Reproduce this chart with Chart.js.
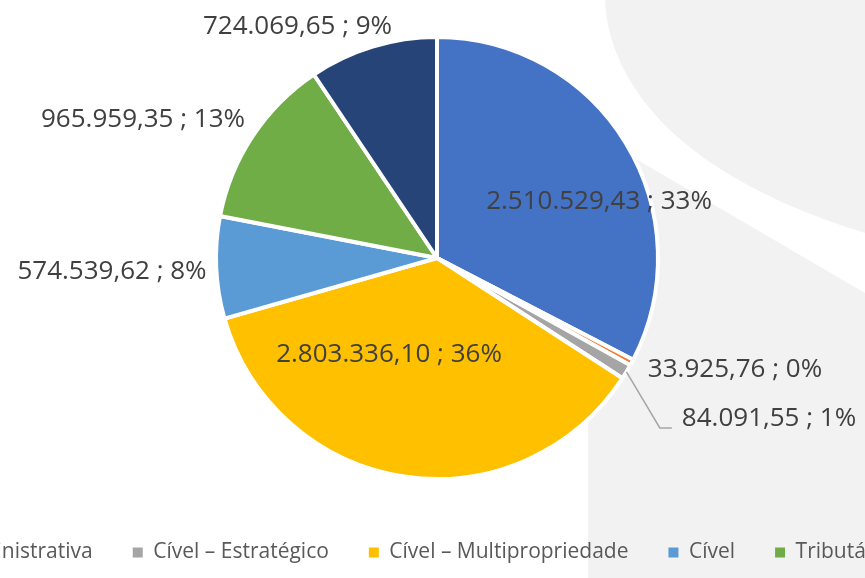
<!DOCTYPE html>
<html>
<head>
<meta charset="utf-8">
<script src="https://cdn.jsdelivr.net/npm/chart.js@4"></script>
<style>
html, body { margin: 0; padding: 0; background: #fff; }
#wrap {
    position: relative; width: 865px; height: 578px; overflow: hidden;
    background: linear-gradient(to right, #fff 588px, #F2F2F2 588px);
}
#chart { position: absolute; top: 0; }
</style>
</head>
<body>
<div id="wrap"><canvas id="chart" height="573"></canvas></div>
<script>
const CATEGORIES = ["Trabalhista", "Administrativa", "Cível – Estratégico", "Cível – Multipropriedade", "Cível", "Tributário", "Regulatório"];
const VALUES = [2510529.43, 33925.76, 84091.55, 2803336.10, 574539.62, 965959.35, 724069.65];
const COLORS = ["#4472C4", "#ED7D31", "#A5A5A5", "#FFC000", "#5B9BD5", "#70AD47", "#264478"];

// label centres, px from pie centre (for a 221px radius)
const LABEL_POS = [[162, -58], [298, 110], [332, 159], [-48, 95], [-325, 12], [-294, -140], [-139.5, -233]];
const LEADER = [false, false, true, false, false, false, false];

const PIE_X = 437;          // pie centre on the page
const LEGEND_FONT = 21;
const LEGEND_PAD = 40;

// the legend runs off both sides of the page, so the canvas is wider and
// slid left until the third legend entry sits where it does in the picture
const probe = document.createElement('canvas').getContext('2d');
probe.font = LEGEND_FONT + 'px "Open Sans"';
const itemW = t => 10 + LEGEND_FONT / 2 + probe.measureText(t).width;
const thirdBox = LEGEND_PAD + itemW(CATEGORIES[0]) + LEGEND_PAD + itemW(CATEGORIES[1]) + LEGEND_PAD;
const SHIFT = Math.round(thirdBox - 133);

const canvas = document.getElementById('chart');
canvas.width = 2 * (PIE_X + SHIFT);
canvas.style.left = -SHIFT + 'px';

function fmt(v) {
    const [int, dec] = v.toFixed(2).split('.');
    return int.replace(/\B(?=(\d{3})+(?!\d))/g, '.') + ',' + dec;
}

// percentages rounded so they add up to 100
function percents(vals) {
    const total = vals.reduce((a, b) => a + b, 0);
    const raw = vals.map(v => v / total * 100);
    const out = raw.map(Math.floor);
    let left = 100 - out.reduce((a, b) => a + b, 0);
    raw.map((r, i) => [r - out[i], i])
        .sort((a, b) => b[0] - a[0])
        .slice(0, left)
        .forEach(([, i]) => out[i]++);
    return out;
}

const backdrop = {
    id: 'backdrop',
    beforeDraw(chart) {
        const ctx = chart.ctx;
        ctx.save();
        ctx.fillStyle = '#fff';
        ctx.fillRect(0, 0, chart.width, chart.height);
        ctx.translate(SHIFT, 0);
        ctx.fillStyle = '#F2F2F2';
        ctx.beginPath();
        ctx.moveTo(605, 0);
        ctx.bezierCurveTo(608, 70, 660, 170, 865, 233);
        ctx.lineTo(870, 233);
        ctx.lineTo(870, 0);
        ctx.closePath();
        ctx.fill();
        ctx.beginPath();
        ctx.moveTo(588, 580);
        ctx.lineTo(588, 131);
        ctx.lineTo(870, 296);
        ctx.lineTo(870, 580);
        ctx.closePath();
        ctx.fill();
        ctx.restore();
    }
};

const sliceLabels = {
    id: 'sliceLabels',
    afterDatasetsDraw(chart) {
        const ctx = chart.ctx;
        const arcs = chart.getDatasetMeta(0).data;
        const pct = percents(VALUES);
        ctx.save();
        ctx.font = '26px "Open Sans"';
        ctx.fillStyle = '#404040';
        ctx.textAlign = 'center';
        ctx.textBaseline = 'alphabetic';
        arcs.forEach((arc, i) => {
            const p = arc.getProps(['x', 'y', 'startAngle', 'endAngle', 'outerRadius'], true);
            const k = p.outerRadius / 221;
            const lx = p.x + LABEL_POS[i][0] * k;
            const ly = p.y + LABEL_POS[i][1] * k;
            const text = fmt(VALUES[i]) + ' ; ' + pct[i] + '%';
            if (LEADER[i]) {
                const mid = (p.startAngle + p.endAngle) / 2;
                const left = lx - ctx.measureText(text).width / 2;
                ctx.save();
                ctx.strokeStyle = '#A6A6A6';
                ctx.lineWidth = 1.5;
                ctx.beginPath();
                ctx.moveTo(p.x + Math.cos(mid) * p.outerRadius, p.y + Math.sin(mid) * p.outerRadius);
                ctx.lineTo(left - 22, ly + 11);
                ctx.lineTo(left - 10, ly + 11);
                ctx.stroke();
                ctx.restore();
            }
            ctx.fillText(text, lx, ly + 9.3);
        });
        ctx.restore();
    }
};

new Chart(canvas, {
    type: 'pie',
    data: {
        labels: CATEGORIES,
        datasets: [{
            data: VALUES,
            backgroundColor: COLORS,
            borderColor: '#fff',
            borderWidth: 4
        }]
    },
    options: {
        responsive: false,
        animation: false,
        radius: 221,
        layout: { padding: { top: 14 } },
        plugins: {
            tooltip: { enabled: false },
            legend: {
                position: 'bottom',
                align: 'start',
                labels: {
                    boxWidth: 10,
                    boxHeight: 10,
                    padding: LEGEND_PAD,
                    color: '#595959',
                    font: { family: '"Open Sans"', size: LEGEND_FONT },
                    generateLabels(chart) {
                        const items = Chart.overrides.pie.plugins.legend.labels.generateLabels(chart);
                        return items.map(it => Object.assign(it, { lineWidth: 0 }));
                    }
                }
            }
        }
    },
    plugins: [backdrop, sliceLabels]
});
</script>
</body>
</html>
